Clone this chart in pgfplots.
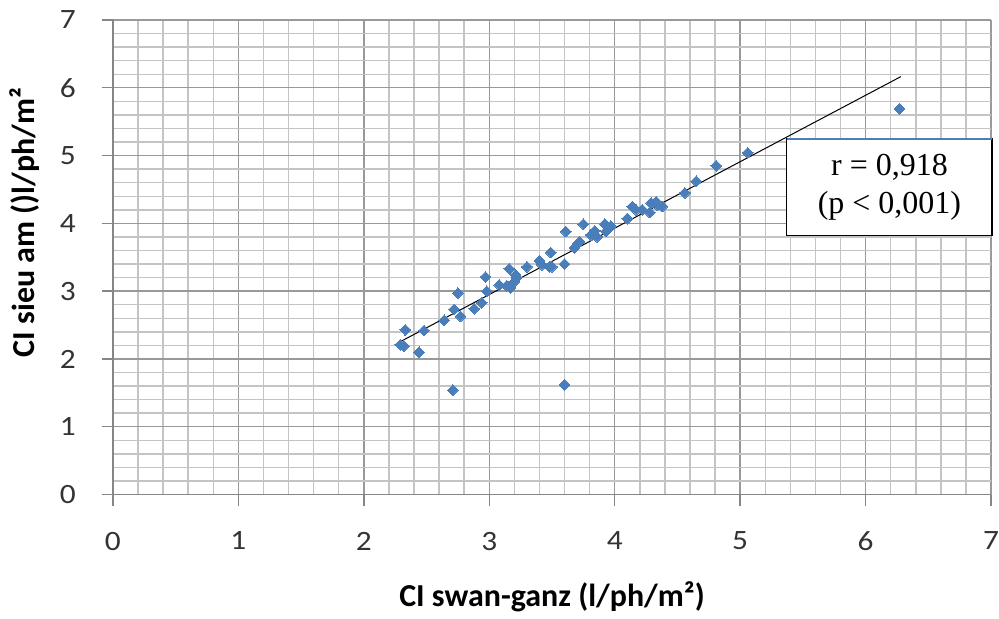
\documentclass[border=0pt]{standalone}
\usepackage{pgfplots}
\pgfplotsset{compat=1.18}
\usepackage{fontspec}
\setmainfont{Carlito}
\newfontfamily\timesfont{Liberation Serif}
\definecolor{ptblue}{HTML}{4A7EBB}
\definecolor{majgrid}{HTML}{999999}
\definecolor{mingrid}{HTML}{C4C4C4}
\definecolor{axgray}{HTML}{868686}
\definecolor{tickcol}{HTML}{333333}
\begin{document}
\begin{tikzpicture}
\begin{axis}[
  scale only axis,
  width=439.5pt, height=237.5pt,
  xmin=0, xmax=7, ymin=0, ymax=7,
  xtick={0,...,7}, ytick={0,...,7},
  minor tick num=4,
  grid=both,
  major grid style={color=majgrid, line width=0.7pt},
  minor grid style={color=mingrid, line width=0.7pt},
  axis lines*=left,
  axis line style={color=axgray, line width=0.7pt, -},
  tick align=outside,
  major tick length=5.5pt,
  minor tick length=0pt,
  major tick style={color=axgray, line width=0.7pt},
  tick label style={font=\fontsize{14}{16}\selectfont, text=tickcol, xscale=1.12},
  /pgf/number format/assume math mode=true,
  xticklabel style={anchor=north, inner sep=0pt, yshift=-13pt},
  yticklabel style={anchor=east, inner sep=0pt, xshift=-11.5pt},
  xlabel={CI swan-ganz (l/ph/m²)},
  ylabel={CI sieu am ()l/ph/m²},
  every axis x label/.style={at={(axis description cs:0.5,-0.215)}, anchor=center, font=\bfseries\fontsize{16}{19}\selectfont},
  every axis y label/.style={at={(axis description cs:-0.1,0.573)}, anchor=center, rotate=90, font=\bfseries\fontsize{16}{19}\selectfont},
  clip=false,
]
\addplot[only marks, mark=diamond*, mark size=2.7pt, mark options={fill=ptblue, draw=ptblue, line width=0pt, xscale=1.33}]
coordinates {
(2.29,2.21)(2.32,2.19)(2.33,2.43)(2.44,2.10)(2.48,2.42)(2.64,2.57)(2.71,1.54)
(2.72,2.73)(2.75,2.97)(2.77,2.63)(2.88,2.74)(2.94,2.83)(2.97,3.21)(2.98,3.00)
(3.08,3.09)(3.14,3.08)(3.16,3.33)(3.17,3.05)(3.20,3.14)(3.21,3.24)(3.22,3.20)
(3.30,3.36)(3.40,3.45)(3.42,3.39)(3.49,3.57)(3.48,3.36)(3.50,3.36)(3.60,3.40)
(3.60,1.62)(3.61,3.88)(3.68,3.64)(3.71,3.71)(3.72,3.73)(3.75,3.99)(3.81,3.83)
(3.84,3.89)(3.86,3.80)(3.92,3.99)(3.93,3.88)(3.97,3.96)(4.10,4.07)(4.14,4.25)
(4.17,4.20)(4.22,4.20)(4.28,4.16)(4.29,4.30)(4.33,4.32)(4.34,4.27)(4.38,4.25)
(4.56,4.45)(4.65,4.62)(4.81,4.85)(5.06,5.04)(6.27,5.69)
};
\addplot[black, line width=0.5pt] coordinates {(2.285,2.249)(6.28,6.164)};
\draw[black, line width=0.9pt, fill=white] (axis cs:5.37,3.82) rectangle (axis cs:7.01,5.25);
\draw[ptblue, line width=1pt] (axis cs:5.37,5.25) -- (axis cs:7.01,5.25);
\node[align=center, font=\timesfont\fontsize{16}{19}\selectfont] at (axis cs:6.19,4.53) {r = 0,918\\(p < 0,001)};
\end{axis}
\path (current axis.south west) ++(-56.5pt,-59pt) rectangle ++(499.5pt,306.5pt);
\end{tikzpicture}
\end{document}
